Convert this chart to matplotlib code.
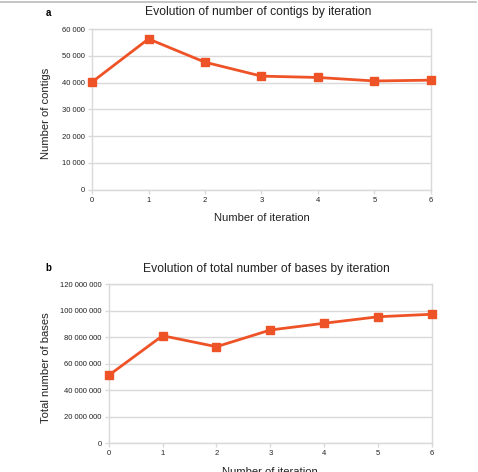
import matplotlib
matplotlib.use("Agg")
import matplotlib.pyplot as plt
from matplotlib.ticker import FuncFormatter

iterations = [0, 1, 2, 3, 4, 5, 6]
contigs = [40200, 56300, 47600, 42400, 41900, 40600, 40900]
bases = [51300000, 81200000, 72900000, 85500000, 90600000, 95500000, 97400000]
contig_ticks = [0, 10000, 20000, 30000, 40000, 50000, 60000]
base_ticks = [0, 20000000, 40000000, 60000000, 80000000, 100000000, 120000000]

W, H = 478, 472
fig = plt.figure(figsize=(W / 100, H / 100), dpi=100)
plt.rcParams['font.family'] = ['Liberation Sans', 'DejaVu Sans']

color = '#EE5328'
grid_c = '#d9d9d9'

def fmt(v, pos):
    return f"{int(v):,}".replace(",", " ")

def style(ax, yticks):
    ax.set_xlim(0, 6)
    ax.set_ylim(yticks[0], yticks[-1])
    ax.set_xticks(iterations)
    ax.set_yticks(yticks)
    ax.yaxis.set_major_formatter(FuncFormatter(fmt))
    ax.grid(axis='y', color=grid_c, linewidth=1)
    ax.set_axisbelow(True)
    for s in ax.spines.values():
        s.set_color(grid_c)
        s.set_linewidth(1)
    ax.tick_params(axis='both', labelsize=5.5, colors=grid_c, labelcolor='#222222',
                   length=3, width=1, pad=2)

def ax_rect(l, t, r, b):
    return [l / W, 1 - b / H, (r - l) / W, (b - t) / H]

ax1 = fig.add_axes(ax_rect(92, 29, 431, 189.7))
ax1.plot(iterations, contigs, color=color, lw=2, marker='s', ms=5.5, clip_on=False, zorder=3)
style(ax1, contig_ticks)

ax2 = fig.add_axes(ax_rect(108.7, 284.3, 432, 443.3))
ax2.plot(iterations, bases, color=color, lw=2, marker='s', ms=5.5, clip_on=False, zorder=3)
style(ax2, base_ticks)

def ftext(x, y, s, **kw):
    fig.text(x / W, 1 - y / H, s, **kw)

tc = '#222222'
ftext(258, 12.5, "Evolution of number of contigs by iteration", fontsize=8.7, ha='center', va='center', color=tc)
ftext(266, 269, "Evolution of total number of bases by iteration", fontsize=8.7, ha='center', va='center', color=tc)
ftext(48, 13, "a", fontsize=7, fontweight='bold', ha='center', va='center')
ftext(48, 268, "b", fontsize=7, fontweight='bold', ha='center', va='center')
ftext(46, 113, "Number of contigs", fontsize=8.1, rotation=90, ha='center', va='center', color=tc)
ftext(262, 218, "Number of iteration", fontsize=8.1, ha='center', va='center', color=tc)
ftext(46, 368, "Total number of bases", fontsize=8.1, rotation=90, ha='center', va='center', color=tc)
ftext(270, 472, "Number of iteration", fontsize=8.1, ha='center', va='center', color=tc)

# thin frame line at top
fig.add_artist(plt.Line2D([0, 0.995], [1 - 1.5 / H, 1 - 1.5 / H], color='#bbbbbb', lw=1.2, transform=fig.transFigure))

fig.savefig("out.png", dpi=100)
